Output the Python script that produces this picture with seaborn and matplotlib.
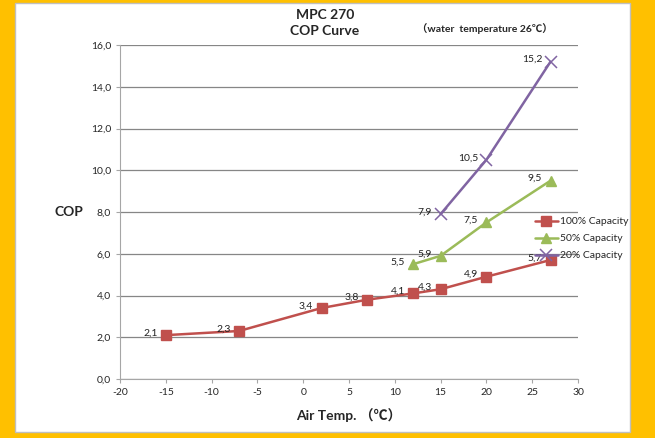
import numpy as np
import pandas as pd
import matplotlib.pyplot as plt
import seaborn as sns
from matplotlib.patches import Rectangle
from matplotlib.ticker import FuncFormatter

# data
x_100 = [-15, -7, 2, 7, 12, 15, 20, 27]
y_100 = [2.1, 2.3, 3.4, 3.8, 4.1, 4.3, 4.9, 5.7]
x_50 = [12, 15, 20, 27]
y_50 = [5.5, 5.9, 7.5, 9.5]
x_20 = [15, 20, 27]
y_20 = [7.9, 10.5, 15.2]

series = [
    ("100% Capacity", x_100, y_100, "#C0504D", "s"),
    ("50% Capacity", x_50, y_50, "#9BBB59", "^"),
    ("20% Capacity", x_20, y_20, "#8064A2", "x"),
]

sns.set_style("white")
plt.rcParams['font.family'] = ['Lato', 'Noto Sans CJK SC', 'DejaVu Sans']
plt.rcParams['axes.unicode_minus'] = False

fig = plt.figure(figsize=(6.55, 4.38), dpi=100, facecolor="#FFC000")
# white panel inside the yellow frame
fig.patches.append(Rectangle((15 / 655, 6 / 438), 615 / 655, 429 / 438,
                             transform=fig.transFigure, facecolor="white",
                             edgecolor="#BFBFBF", lw=1, zorder=-10))
ax = fig.add_axes([120 / 655, (438 - 379) / 438, 458 / 655, 334 / 438])
ax.set_zorder(5)
ax.set_facecolor("none")

for name, xs, ys, col, mk in series:
    df = pd.DataFrame({"x": xs, "y": ys})
    sns.lineplot(data=df, x="x", y="y", ax=ax, color=col, marker=mk,
                 markersize=7 if mk != "x" else 8, lw=1.8, label=name,
                 markeredgecolor=col, markeredgewidth=1 if mk != "x" else 1.1,
                 zorder=3)
    for xv, yv in zip(xs, ys):
        ax.annotate(f"{yv:.1f}".replace(".", ","), (xv, yv), xytext=(-6, 1.5),
                    textcoords="offset points", ha="right", va="center",
                    fontsize=7.5, color="#222222", zorder=4)

ax.set_xlim(-20, 30)
ax.set_ylim(0, 16)
ax.set_xticks(np.arange(-20, 31, 5))
ax.set_yticks(np.arange(0, 17, 2))
ax.yaxis.set_major_formatter(FuncFormatter(lambda v, p: f"{v:.1f}".replace(".", ",")))
ax.grid(axis="y", color="#868686", lw=0.9)
ax.set_axisbelow(True)
for s in ["top", "right"]:
    ax.spines[s].set_visible(False)
for s in ["left", "bottom"]:
    ax.spines[s].set_color("#A6A6A6")
ax.tick_params(axis="both", labelsize=7.5, length=3, color="#A6A6A6",
               direction="out", bottom=True, left=True)

ax.set_xlabel("Air Temp. （℃）", fontsize=10, fontweight="bold", labelpad=8)
ax.set_ylabel("COP", fontsize=10, fontweight="bold", rotation=0, labelpad=16, va="center")

fig.text(325 / 655, 1 - 15 / 438, "MPC 270", ha="center", va="center",
         fontsize=10, fontweight="bold")
fig.text(325 / 655, 1 - 31 / 438, "COP Curve", ha="center", va="center",
         fontsize=10, fontweight="bold")
fig.text(485 / 655, 1 - 29 / 438, "（water  temperature 26℃）", ha="center",
         va="center", fontsize=7.5, fontweight="bold")

ax.legend(loc="center left", bbox_to_anchor=(0.885, 0.42), frameon=False,
          fontsize=7.5, handlelength=2.2, handletextpad=0.2, labelspacing=0.75)

fig.savefig("out.png", dpi=100, facecolor=fig.get_facecolor())
